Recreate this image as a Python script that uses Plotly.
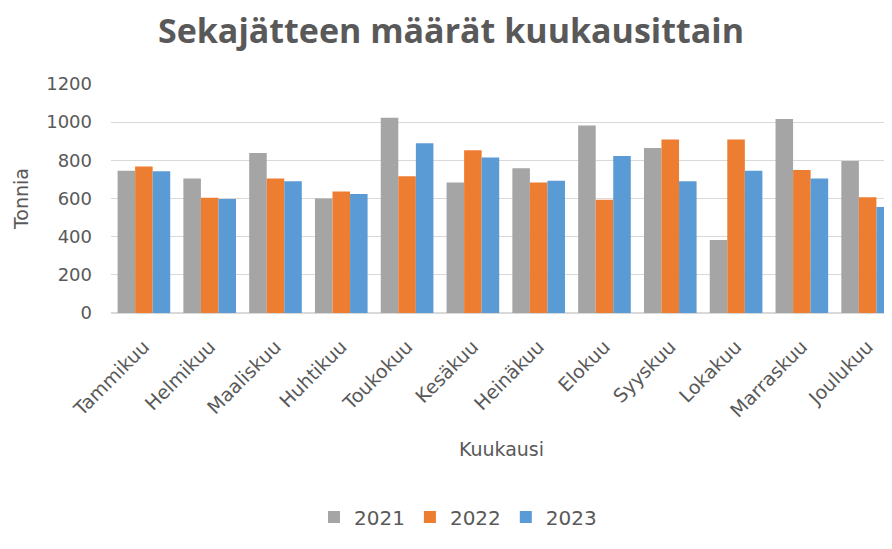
import plotly.graph_objects as go

months = ["Tammikuu", "Helmikuu", "Maaliskuu", "Huhtikuu", "Toukokuu", "Kesäkuu",
          "Heinäkuu", "Elokuu", "Syyskuu", "Lokakuu", "Marraskuu", "Joulukuu"]
v2021 = [745, 705, 839, 600, 1023, 684, 759, 983, 865, 382, 1016, 797]
v2022 = [768, 604, 705, 637, 717, 853, 684, 593, 909, 909, 749, 606]
v2023 = [743, 597, 691, 624, 890, 815, 693, 823, 691, 745, 705, 556]
years = ["2021", "2022", "2023"]
colors = ["#A5A5A5", "#ED7D31", "#5B9BD5"]
y_ticks = [0, 200, 400, 600, 800, 1000, 1200]

TXT = "#595959"
FONT = "DejaVu Sans"
TFONT = "Open Sans"

# the page body has an 8px margin, so the figure is drawn 8px right/down
W, H = 884, 541

fig = go.Figure()
for name, vals, col in zip(years, [v2021, v2022, v2023], colors):
    fig.add_trace(go.Bar(x=list(range(len(months))), y=vals, name=name,
                         marker=dict(color=col, line=dict(width=0))))

fig.update_layout(
    width=W, height=H,
    margin=dict(l=103, r=0, t=76, b=236, autoexpand=False),
    paper_bgcolor="white", plot_bgcolor="white",
    barmode="group", bargap=0.2, bargroupgap=0.0,
    font=dict(family=FONT, color=TXT, size=18),
    title=dict(text="<b>Sekajätteen määrät kuukausittain</b>",
               x=443 / W, xanchor="center", y=1 - 23 / H, yanchor="middle",
               yref="container", automargin=False,
               font=dict(family=TFONT, size=34, color=TXT)),
    showlegend=True,
    legend=dict(orientation="h", x=450 / W, xanchor="center", xref="container",
                y=1 - 509 / H, yanchor="middle", yref="container",
                font=dict(family=FONT, size=20, color=TXT), itemwidth=30,
                traceorder="normal"),
)
fig.update_xaxes(
    range=[-0.5, 11.37], tickmode="array", tickvals=list(range(len(months))),
    ticktext=months, tickangle=-45, showgrid=False, zeroline=False,
    showline=False, ticks="", tickfont=dict(family=FONT, size=19, color=TXT),
    automargin=False, ticklabelstandoff=18,
    title=dict(text="Kuukausi", font=dict(family=FONT, size=19, color=TXT), standoff=22),
)
fig.update_yaxes(
    range=[0, 1200], tickmode="array", tickvals=y_ticks,
    showgrid=True, gridcolor="#D9D9D9", gridwidth=1, zeroline=True,
    zerolinecolor="#D9D9D9", showline=False, ticks="", automargin=False,
    ticklabelstandoff=18, tickfont=dict(family=FONT, size=18, color=TXT),
    title=dict(text="Tonnia", font=dict(family=FONT, size=19, color=TXT), standoff=12),
)

fig.write_html("out.html")
